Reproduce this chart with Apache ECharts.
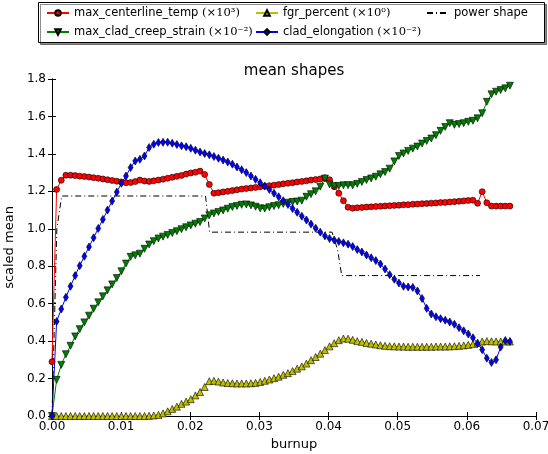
<!DOCTYPE html>
<html>
<head>
<meta charset="utf-8">
<script src="https://cdn.jsdelivr.net/npm/echarts@6/dist/echarts.min.js"></script>
<style>
html, body { margin: 0; padding: 0; background: #fff; }
#chart { width: 548px; height: 454px; }
</style>
</head>
<body>
<div id="chart"></div>
<script>
// burnup grid shared by the four measured series
var burnup = [0, 0.00067, 0.00134, 0.00201, 0.00268, 0.00335, 0.00401, 0.00468, 0.00535, 0.00602,
  0.00669, 0.00736, 0.00803, 0.0087, 0.00937, 0.01004, 0.0107, 0.01137, 0.01204, 0.01271,
  0.01338, 0.01405, 0.01472, 0.01539, 0.01606, 0.01673, 0.01739, 0.01806, 0.01873, 0.0194,
  0.02007, 0.02074, 0.02141, 0.02208, 0.02275, 0.02342, 0.02408, 0.02475, 0.02542, 0.02609,
  0.02676, 0.02743, 0.0281, 0.02877, 0.02944, 0.03011, 0.03077, 0.03144, 0.03211, 0.03278,
  0.03345, 0.03412, 0.03479, 0.03546, 0.03613, 0.0368, 0.03746, 0.03813, 0.0388, 0.03947,
  0.04014, 0.04081, 0.04148, 0.04215, 0.04282, 0.04349, 0.04415, 0.04482, 0.04549, 0.04616,
  0.04683, 0.0475, 0.04817, 0.04884, 0.04951, 0.05018, 0.05084, 0.05151, 0.05218, 0.05285,
  0.05352, 0.05419, 0.05486, 0.05553, 0.0562, 0.05687, 0.05753, 0.0582, 0.05887, 0.05954,
  0.06021, 0.06088, 0.06155, 0.06222, 0.06289, 0.06356, 0.06422, 0.06489, 0.06556, 0.06623];

var centerlineTemp = [0.29, 1.21, 1.259, 1.286, 1.286, 1.284, 1.281, 1.279, 1.276, 1.273,
  1.27, 1.266, 1.262, 1.258, 1.254, 1.25, 1.246, 1.247, 1.252, 1.26,
  1.255, 1.253, 1.256, 1.26, 1.265, 1.27, 1.275, 1.28, 1.285, 1.292,
  1.298, 1.302, 1.308, 1.29, 1.237, 1.19, 1.193, 1.197, 1.2, 1.204,
  1.208, 1.212, 1.215, 1.218, 1.221, 1.224, 1.227, 1.23, 1.233, 1.236,
  1.24, 1.243, 1.246, 1.25, 1.253, 1.256, 1.26, 1.263, 1.266, 1.272,
  1.262, 1.225, 1.19, 1.15, 1.115, 1.11, 1.112, 1.114, 1.116, 1.117,
  1.119, 1.12, 1.122, 1.123, 1.125, 1.126, 1.128, 1.129, 1.131, 1.132,
  1.134, 1.135, 1.137, 1.138, 1.14, 1.141, 1.143, 1.145, 1.147, 1.149,
  1.151, 1.153, 1.136, 1.198, 1.139, 1.121, 1.121, 1.121, 1.121, 1.121];

var cladCreepStrain = [0, 0.193, 0.273, 0.33, 0.375, 0.425, 0.464, 0.5, 0.536, 0.573,
  0.607, 0.639, 0.671, 0.703, 0.737, 0.773, 0.814, 0.85, 0.858, 0.867,
  0.893, 0.916, 0.934, 0.948, 0.958, 0.967, 0.977, 0.987, 0.998, 1.008,
  1.018, 1.027, 1.036, 1.055, 1.072, 1.082, 1.09, 1.098, 1.107, 1.116,
  1.122, 1.128, 1.13, 1.125, 1.118, 1.109, 1.108, 1.115, 1.121, 1.126,
  1.133, 1.139, 1.143, 1.146, 1.15, 1.171, 1.185, 1.2, 1.225, 1.268,
  1.237, 1.228, 1.228, 1.232, 1.233, 1.232, 1.24, 1.25, 1.26, 1.269,
  1.278, 1.291, 1.303, 1.321, 1.36, 1.389, 1.402, 1.416, 1.428, 1.439,
  1.455, 1.469, 1.482, 1.5, 1.523, 1.544, 1.564, 1.555, 1.559, 1.564,
  1.571, 1.577, 1.59, 1.617, 1.678, 1.718, 1.732, 1.741, 1.75, 1.764];

var fgrPercent = [0, 0, 0, 0, 0, 0, 0, 0, 0, 0,
  0, 0, 0, 0, 0, 0, 0, 0, 0, 0,
  0, 0.001, 0.003, 0.006, 0.014, 0.025, 0.038, 0.05, 0.065, 0.077,
  0.09, 0.11, 0.128, 0.155, 0.186, 0.188, 0.184, 0.179, 0.176, 0.175,
  0.174, 0.174, 0.174, 0.175, 0.177, 0.182, 0.188, 0.195, 0.202, 0.21,
  0.22, 0.229, 0.24, 0.253, 0.265, 0.28, 0.298, 0.315, 0.333, 0.352,
  0.372, 0.389, 0.405, 0.414, 0.413, 0.407, 0.4, 0.396, 0.39, 0.386,
  0.382, 0.378, 0.375, 0.373, 0.372, 0.371, 0.371, 0.37, 0.37, 0.37,
  0.37, 0.37, 0.37, 0.371, 0.371, 0.371, 0.372, 0.373, 0.375, 0.377,
  0.38, 0.384, 0.392, 0.398, 0.4, 0.399, 0.398, 0.398, 0.398, 0.398];

var cladElongation = [0, 0.505, 0.571, 0.634, 0.693, 0.75, 0.803, 0.853, 0.903, 0.952,
  1.002, 1.05, 1.1, 1.148, 1.196, 1.243, 1.282, 1.327, 1.362, 1.371,
  1.389, 1.434, 1.452, 1.461, 1.462, 1.462, 1.457, 1.45, 1.443, 1.438,
  1.43, 1.42, 1.41, 1.402, 1.395, 1.386, 1.377, 1.367, 1.357, 1.345,
  1.33, 1.315, 1.3, 1.282, 1.264, 1.246, 1.228, 1.21, 1.19, 1.171,
  1.15, 1.13, 1.108, 1.088, 1.067, 1.047, 1.025, 1.003, 0.982, 0.962,
  0.948, 0.94, 0.932, 0.925, 0.918, 0.905, 0.889, 0.876, 0.86, 0.845,
  0.83, 0.812, 0.785, 0.755, 0.73, 0.71, 0.693, 0.689, 0.687, 0.668,
  0.628, 0.575, 0.545, 0.53, 0.52, 0.512, 0.502, 0.49, 0.472, 0.455,
  0.438, 0.418, 0.386, 0.354, 0.309, 0.286, 0.3, 0.368, 0.403, 0.398];

// power shape has its own breakpoints
var powerBurnup = [0, 0.0007, 0.0014, 0.0222, 0.0228, 0.0405, 0.0413, 0.0419, 0.0619];
var powerShape = [0, 1.0, 1.175, 1.175, 0.982, 0.982, 0.889, 0.75, 0.75];

var xTickLabels = ['0.00', '0.01', '0.02', '0.03', '0.04', '0.05', '0.06', '0.07'];
var yTickLabels = ['0.0', '0.2', '0.4', '0.6', '0.8', '1.0', '1.2', '1.4', '1.6', '1.8'];

var names = ['max_centerline_temp', 'max_clad_creep_strain', 'fgr_percent', 'clad_elongation', 'power shape'];
var scaleNote = {
  'max_centerline_temp': '(×10³)',
  'max_clad_creep_strain': '(×10⁻²)',
  'fgr_percent': '(×10⁰)',
  'clad_elongation': '(×10⁻²)',
  'power shape': ''
};

function pairs(xs, ys) {
  return xs.map(function (x, i) { return [x, ys[i]]; });
}

function markerSeries(name, values, color, symbol, size, rotate) {
  return {
    name: name,
    type: 'line',
    data: pairs(burnup, values),
    symbol: symbol,
    symbolSize: size,
    symbolRotate: rotate || 0,
    showAllSymbol: true,
    lineStyle: { color: color, width: 1 },
    itemStyle: { color: color, borderColor: '#000', borderWidth: 0.6 },
    emphasis: { disabled: true }
  };
}

var font = 'DejaVu Sans';
var legendText = {
  fontFamily: font, fontSize: 11.5, color: '#000',
  rich: { m: { fontFamily: 'DejaVu Serif', fontSize: 11.5, color: '#000' } }
};
function legendLabel(name) {
  return scaleNote[name] ? name + ' {m|' + scaleNote[name] + '}' : name;
}
function legendCol(items, left) {
  return {
    data: items, left: left, top: 7, orient: 'vertical',
    itemWidth: 22, itemHeight: 7, itemGap: 7, padding: 0,
    textStyle: legendText, formatter: legendLabel
  };
}

function axisCommon() {
  return {
    axisLine: { show: true, lineStyle: { color: '#000', width: 1 } },
    axisTick: { show: true, inside: true, length: 4, lineStyle: { color: '#000' } },
    splitLine: { show: false }
  };
}

var chart = echarts.init(document.getElementById('chart'));
var option = {
  animation: false,
  backgroundColor: '#fff',
  title: {
    text: 'mean shapes', left: 294, top: 64, padding: 0, textAlign: 'center',
    textStyle: { fontFamily: font, fontSize: 15, fontWeight: 'normal', color: '#000' }
  },
  graphic: [{
    type: 'rect', z: 0,
    shape: { x: 38.5, y: 2.5, width: 506, height: 40 },
    style: { fill: '#fff', stroke: '#000', lineWidth: 1, shadowColor: 'rgba(0,0,0,0.45)', shadowOffsetX: 2, shadowOffsetY: 2 }
  }],
  legend: [
    legendCol([names[0], names[1]], 46),
    legendCol([names[2], names[3]], 255),
    // power shape has no marker, only the dash-dot line
    legendCol([{ name: names[4], itemStyle: { opacity: 0 } }], 426)
  ],
  grid: { left: 52, right: 12, top: 79, bottom: 38, containLabel: false, outerBoundsMode: 'none' },
  xAxis: [
    Object.assign(axisCommon(), {
      type: 'value', position: 'bottom', min: 0, max: 0.07, interval: 0.01,
      name: 'burnup', nameLocation: 'middle', nameGap: 22,
      nameTextStyle: { fontFamily: font, fontSize: 13, color: '#000' },
      axisLabel: {
        margin: 5, fontFamily: font, fontSize: 12, color: '#000',
        formatter: function (v) { return xTickLabels[Math.round(v / 0.01)]; }
      }
    }),
    Object.assign(axisCommon(), {
      type: 'value', position: 'top', min: 0, max: 0.07, interval: 0.01,
      axisLabel: { show: false }
    })
  ],
  yAxis: [
    Object.assign(axisCommon(), {
      type: 'value', position: 'left', min: 0, max: 1.8, interval: 0.2,
      name: 'scaled mean', nameLocation: 'middle', nameGap: 34,
      nameTextStyle: { fontFamily: font, fontSize: 13, color: '#000' },
      axisLabel: {
        margin: 6, fontFamily: font, fontSize: 12, color: '#000',
        formatter: function (v) { return yTickLabels[Math.round(v / 0.2)]; }
      }
    }),
    Object.assign(axisCommon(), {
      type: 'value', position: 'right', min: 0, max: 1.8, interval: 0.2,
      axisLabel: { show: false }
    })
  ],
  series: [
    markerSeries(names[0], centerlineTemp, '#ff0000', 'circle', 6),
    markerSeries(names[1], cladCreepStrain, '#008000', 'triangle', 7, 180),
    markerSeries(names[2], fgrPercent, '#bfbf00', 'triangle', 7),
    markerSeries(names[3], cladElongation, '#0000ff', 'diamond', [5, 8]),
    {
      name: names[4],
      type: 'line',
      data: pairs(powerBurnup, powerShape),
      symbol: 'none',
      lineStyle: { color: '#000', width: 1, type: [6, 3, 1, 3] },
      itemStyle: { color: '#000' },
      emphasis: { disabled: true }
    }
  ]
};
chart.setOption(option);
</script>
</body>
</html>
